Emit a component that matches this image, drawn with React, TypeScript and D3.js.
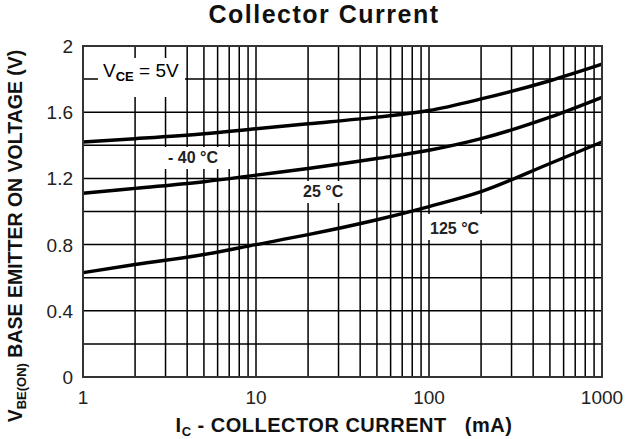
import * as d3 from "d3";

// I_C (mA) sample points, V_BE(on) per temperature
const currents = [1, 2, 5, 10, 20, 50, 100, 200, 500, 1000];
const vMinus40 = [1.42, 1.44, 1.47, 1.5, 1.53, 1.57, 1.61, 1.68, 1.79, 1.89];
const v25 = [1.11, 1.14, 1.18, 1.22, 1.26, 1.32, 1.37, 1.44, 1.57, 1.69];
const v125 = [0.63, 0.68, 0.74, 0.8, 0.86, 0.95, 1.03, 1.12, 1.29, 1.42];

const xTicks = [1, 10, 100, 1000];
const yTicks = [0, 0.4, 0.8, 1.2, 1.6, 2];
const yGrid = [0.2, 0.4, 0.6, 0.8, 1.0, 1.2, 1.4, 1.6, 1.8];

const W = 642;
const H = 439;
const M = { left: 83, top: 46, right: 40, bottom: 62 };

const FONT = "Arial, 'Liberation Sans', Helvetica, sans-serif";

export default function App() {
  const x = d3.scaleLog().domain([1, 1000]).range([M.left, W - M.right]);
  const y = d3.scaleLinear().domain([0, 2]).range([H - M.bottom, M.top]);

  // minor log grid: 2..9 in each decade plus 10 and 100
  const xGrid: number[] = [];
  for (let d = 1; d < 1000; d *= 10) for (let k = 2; k <= 10; k++) xGrid.push(d * k);
  xGrid.pop();

  const line = d3
    .line<number>()
    .x((_, i) => x(currents[i]))
    .y((v) => y(v))
    .curve(d3.curveMonotoneX);

  const series = [vMinus40, v25, v125];

  // white label boxes that knock out the grid
  const boxes = [
    { x: 98, y: 58, w: 87, h: 39 },
    { x: 163, y: 147, w: 72, h: 22 },
    { x: 288, y: 181, w: 70, h: 22 },
    { x: 428, y: 214, w: 72, h: 26 },
  ];

  const [x0, x1] = x.range();
  const [y0, y1] = y.range();

  return (
    <svg width={W} height={H} style={{ position: "absolute", left: 0, top: 0, background: "#fff" }}>
      <rect width={W} height={H} fill="#fff" />
      <text x={324} y={23} textAnchor="middle" fontFamily={FONT} fontWeight="bold" fontSize={25} letterSpacing={1.5} fill="#111">
        Collector Current
      </text>

      {xGrid.map((v) => (
        <line key={"xg" + v} x1={x(v)} x2={x(v)} y1={y1} y2={y0} stroke="#000" strokeWidth={1.5} />
      ))}
      {yGrid.map((v) => (
        <line key={"yg" + v} x1={x0} x2={x1} y1={y(v)} y2={y(v)} stroke="#000" strokeWidth={1.5} />
      ))}

      {boxes.map((b, i) => (
        <rect key={"b" + i} x={b.x} y={b.y} width={b.w} height={b.h} fill="#fff" />
      ))}

      {series.map((s, i) => (
        <path key={"s" + i} d={line(s) ?? ""} fill="none" stroke="#000" strokeWidth={3.4} />
      ))}

      <rect x={x0} y={y1} width={x1 - x0} height={y0 - y1} fill="none" stroke="#333" strokeWidth={2} />

      {yTicks.map((v) => (
        <text key={"yt" + v} x={73} y={y(v) + 7} textAnchor="end" fontFamily={FONT} fontSize={19} fill="#222">
          {v === 0 || v === 2 ? String(v) : v.toFixed(1)}
        </text>
      ))}
      {xTicks.map((v) => (
        <text key={"xt" + v} x={x(v)} y={404} textAnchor="middle" fontFamily={FONT} fontSize={19} fill="#222">
          {v}
        </text>
      ))}

      <text x={103} y={77} fontFamily={FONT} fontSize={19} fill="#000">
        V<tspan fontSize={13} dy={4} fontWeight="bold">CE</tspan>
        <tspan dy={-4}> = 5V</tspan>
      </text>
      <text x={168} y={163} fontFamily={FONT} fontWeight="bold" fontSize={16} fill="#222">- 40 °C</text>
      <text x={303} y={197} fontFamily={FONT} fontWeight="bold" fontSize={16} fill="#222">25 °C</text>
      <text x={430} y={234} fontFamily={FONT} fontWeight="bold" fontSize={16} fill="#222">125 °C</text>

      <text x={344} y={432} textAnchor="middle" fontFamily={FONT} fontWeight="bold" fontSize={20} letterSpacing={0.5} fill="#111">
        I<tspan fontSize={13} dy={4}>C</tspan>
        <tspan dy={-4}>{" - COLLECTOR CURRENT\u00a0\u00a0 (mA)"}</tspan>
      </text>

      <text transform={`translate(22, ${236}) rotate(-90)`} textAnchor="middle" fontFamily={FONT} fontWeight="bold" fontSize={19.5} fill="#111">
        V<tspan fontSize={13} dy={4}>BE(ON)</tspan>
        <tspan dy={-4}> BASE EMITTER ON VOLTAGE (V)</tspan>
      </text>
    </svg>
  );
}
